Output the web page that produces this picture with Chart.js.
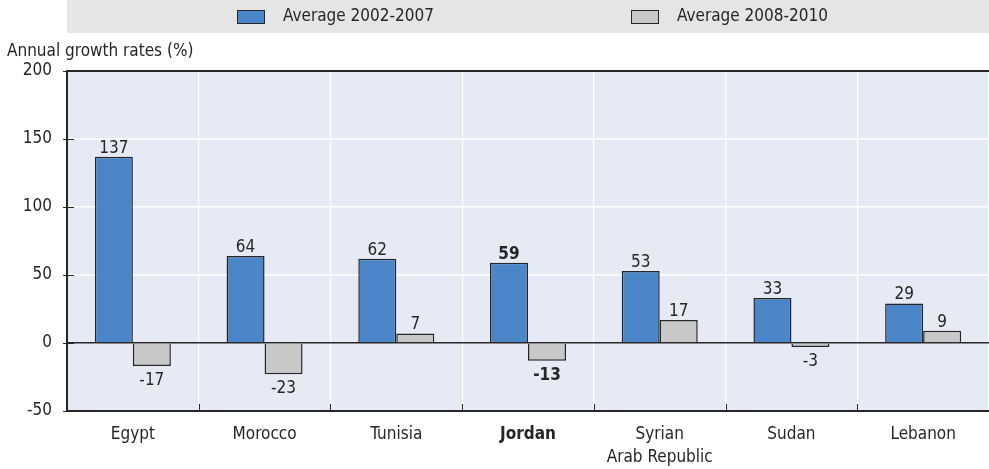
<!DOCTYPE html>
<html>
<head>
<meta charset="utf-8">
<script src="https://cdn.jsdelivr.net/npm/chart.js@4/dist/chart.umd.min.js"></script>
<style>
  html, body { margin: 0; padding: 0; background: #fff; }
  #wrap { position: relative; width: 989px; height: 469px; }
</style>
</head>
<body>
<div id="wrap"><canvas id="growth-chart" width="989" height="469"></canvas></div>
<script>
const FONT = "'Liberation Sans Narrow', 'DejaVu Sans Condensed', 'Roboto Condensed', sans-serif";

// Countries and the two period averages
const countries = ["Egypt", "Morocco", "Tunisia", "Jordan", ["Syrian", "Arab Republic"], "Sudan", "Lebanon"];
const avg2002to2007 = [137, 64, 62, 59, 53, 33, 29];
const avg2008to2010 = [-17, -23, 7, -13, 17, -3, 9];
const yTicks = [-50, 0, 50, 100, 150, 200];
const highlight = "Jordan";

const BLUE = '#4a86c8';
const GREY = '#c8c8c8';
const INK = '#262626';

// plot background, legend band and axis caption
const backdrop = {
  id: 'backdrop',
  beforeDraw(chart) {
    const { ctx, chartArea: a } = chart;
    ctx.save();
    ctx.fillStyle = '#e6eaf5';
    ctx.fillRect(a.left, a.top, a.right - a.left, a.bottom - a.top);
    ctx.fillStyle = '#e5e5e5';
    ctx.fillRect(a.left, 0, a.right - a.left, 33);

    // legend
    const items = [
      { x: 237, ds: chart.data.datasets[0] },
      { x: 631, ds: chart.data.datasets[1] }
    ];
    ctx.font = '17px ' + FONT;
    ctx.textBaseline = 'middle';
    items.forEach(it => {
      ctx.fillStyle = it.ds.backgroundColor;
      ctx.fillRect(it.x, 10, 28, 14);
      ctx.strokeStyle = INK;
      ctx.lineWidth = 1;
      ctx.strokeRect(it.x + 0.5, 10.5, 27, 13);
      ctx.fillStyle = INK;
      ctx.fillText(it.ds.label, it.x + 46, 17);
    });

    ctx.textBaseline = 'alphabetic';
    ctx.fillText('Annual growth rates (%)', 7, 56);
    ctx.restore();
  },
  afterDatasetsDraw(chart) {
    const { ctx, chartArea: a } = chart;
    const x = chart.scales.x, y = chart.scales.y;
    ctx.save();
    ctx.strokeStyle = INK;
    ctx.lineWidth = 2;
    // frame: top, left, bottom
    ctx.beginPath();
    ctx.moveTo(a.right, a.top); ctx.lineTo(a.left, a.top);
    ctx.lineTo(a.left, a.bottom); ctx.lineTo(a.right, a.bottom);
    ctx.stroke();
    // inward tick marks
    ctx.lineWidth = 1;
    ctx.beginPath();
    y.ticks.forEach(t => {
      const py = Math.round(y.getPixelForValue(t.value)) + 0.5;
      ctx.moveTo(a.left - 4, py); ctx.lineTo(a.left + 7, py);
    });
    for (let i = 1; i < countries.length; i++) {
      const px = Math.round((x.getPixelForValue(i - 1) + x.getPixelForValue(i)) / 2) + 0.5;
      ctx.moveTo(px, a.bottom); ctx.lineTo(px, a.bottom - 7);
    }
    ctx.stroke();

    // value labels
    ctx.fillStyle = INK;
    ctx.textAlign = 'center';
    chart.data.datasets.forEach((ds, di) => {
      chart.getDatasetMeta(di).data.forEach((bar, i) => {
        const v = ds.data[i];
        const bold = countries[i] === highlight;
        ctx.font = (bold ? 'bold ' : '') + '17px ' + FONT;
        if (v >= 0) {
          ctx.textBaseline = 'bottom';
          ctx.fillText(String(v), bar.x, bar.y);
        } else {
          ctx.textBaseline = 'top';
          ctx.fillText(String(v), bar.x, bar.y + 6);
        }
      });
    });
    ctx.restore();
  }
};

const growthChart = new Chart(document.getElementById('growth-chart'), {
  type: 'bar',
  data: {
    labels: countries,
    datasets: [
      {
        label: 'Average 2002-2007',
        data: avg2002to2007,
        backgroundColor: BLUE,
        borderColor: INK,
        borderWidth: 1.5,
        categoryPercentage: 0.577,
        barPercentage: 1
      },
      {
        label: 'Average 2008-2010',
        data: avg2008to2010,
        backgroundColor: GREY,
        borderColor: INK,
        borderWidth: 1.5,
        categoryPercentage: 0.577,
        barPercentage: 1
      }
    ]
  },
  options: {
    responsive: false,
    animation: false,
    layout: { padding: { top: 71, right: 0, bottom: 0, left: 0 } },
    plugins: {
      legend: { display: false },
      tooltip: { enabled: false }
    },
    scales: {
      x: {
        offset: true,
        grid: { color: '#ffffff', lineWidth: 1.2, drawTicks: false, offset: true },
        border: { display: false },
        ticks: {
          color: INK,
          padding: 12,
          font: (c) => ({
            family: FONT,
            size: 17,
            lineHeight: 1.35,
            weight: countries[c.index] === highlight ? 'bold' : 'normal'
          })
        },
        afterFit: (s) => { s.height = 58; }
      },
      y: {
        min: -50,
        max: 200,
        afterBuildTicks: (s) => { s.ticks = yTicks.map(v => ({ value: v })); },
        grid: {
          color: (c) => c.tick && c.tick.value === 0 ? INK : '#ffffff',
          lineWidth: 1.5,
          drawTicks: false
        },
        border: { display: false },
        ticks: { color: INK, padding: 15, font: { family: FONT, size: 17 } },
        afterFit: (s) => { s.width = 67; }
      }
    }
  },
  plugins: [backdrop]
});
</script>
</body>
</html>
